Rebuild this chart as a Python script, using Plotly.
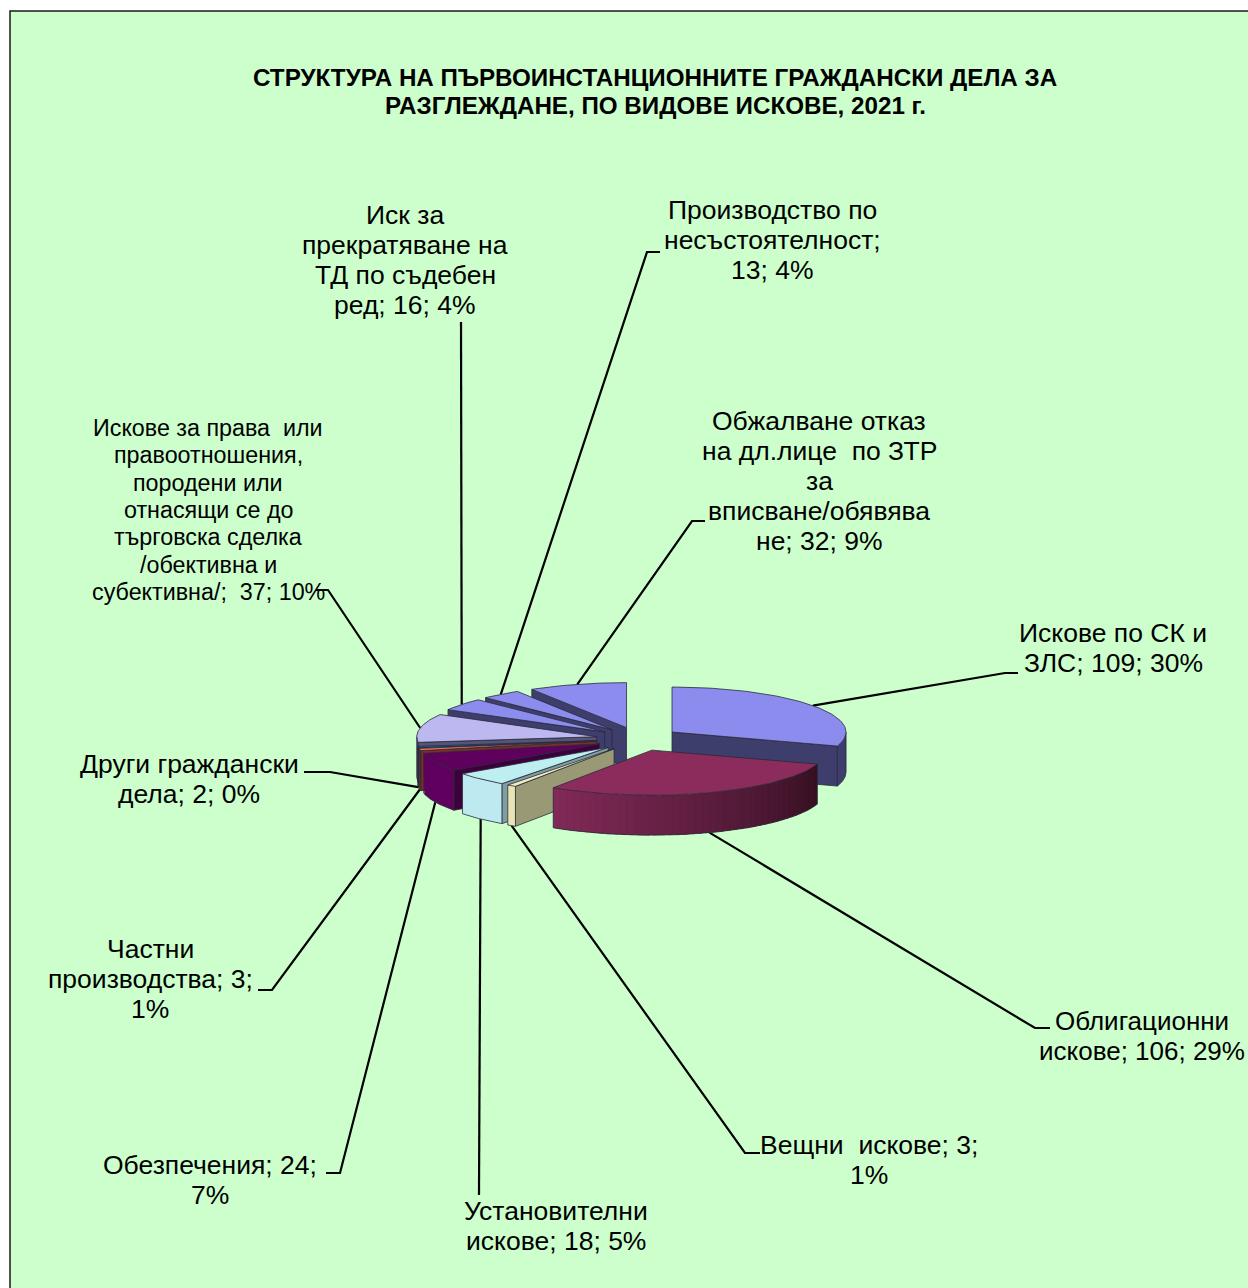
import math
import plotly.graph_objects as go

# --- data ---
title_lines = ["<b>СТРУКТУРА НА ПЪРВОИНСТАНЦИОННИТЕ ГРАЖДАНСКИ ДЕЛА ЗА</b>",
               "<b>РАЗГЛЕЖДАНЕ, ПО ВИДОВЕ ИСКОВЕ, 2021 г.</b>"]
values = [109, 106, 3, 18, 24, 3, 2, 37, 16, 13, 32]
labels = [
    ["Искове по СК и", "ЗЛС; 109; 30%"],
    ["Облигационни", "искове; 106; 29%"],
    ["Вещни  искове; 3;", "1%"],
    ["Установителни", "искове; 18; 5%"],
    ["Обезпечения; 24;", "7%"],
    ["Частни", "производства; 3;", "1%"],
    ["Други граждански", "дела; 2; 0%"],
    ["Искове за права  или", "правоотношения,", "породени или", "отнасящи се до",
     "търговска сделка", "/обективна и", "субективна/;  37; 10%"],
    ["Иск за", "прекратяване на", "ТД по съдебен", "ред; 16; 4%"],
    ["Производство по", "несъстоятелност;", "13; 4%"],
    ["Обжалване отказ", "на дл.лице  по ЗТР", "за", "вписване/обявява", "не; 32; 9%"],
]
top_colors = ["#8C8CEE", "#8B2C5C", "#F2EBC0", "#BDEEF0", "#5F005F", "#F07050",
              "#0A6CB0", "#BDB9F0", "#8C8CEE", "#8C8CEE", "#8C8CEE"]
wall_colors = ["#3E3E6C", "#3E1228", "#999976", "#7E9EA0", "#3C003C", "#7A3028",
               "#0A3C64", "#55557A", "#3E3E6C", "#3E3E6C", "#3E3E6C"]
rim_left = ["#3E3E6C", "#822A58", "#E8E4B6", "#BCEAF0", "#5F005F", "#7A3028",
            "#0A3C64", "#55557A", "#3E3E6C", "#3E3E6C", "#3E3E6C"]
rim_right = ["#3E3E6C", "#351022", "#E8E4B6", "#BCEAF0", "#5F005F", "#7A3028",
             "#0A3C64", "#55557A", "#3E3E6C", "#3E3E6C", "#3E3E6C"]
paint_order = [0, 10, 9, 8, 7, 6, 5, 4, 3, 2, 1]

# --- layout constants (pixel-mapped axes) ---
W, H = 1248, 1288
CX, CY, RX_L, RX_R, RY, EX, EY, T = 638, 739, 180, 174, 45, 42, 11.8, 40
label_pos = [(1113, 648), (1142, 1036), (869, 1160), (556, 1226), (210, 1180), (150, 979),
             (189, 779), (208, 510), (405, 260), (772, 240), (819, 481)]
knees = [[(1005, 673), (1018, 673)], [(1035, 1028), (1050, 1028)], [(745, 1153), (760, 1153)],
         [(479, 1195)], [(340, 1173), (326, 1173)], [(272, 990), (258, 990)],
         [(330, 772), (304, 772)], [(328, 590), (316, 590)], [(461, 322)],
         [(647, 252), (660, 252)], [(692, 521), (705, 521)]]
label_sizes = [26.5, 26, 26.5, 26.5, 26.5, 26.5, 26.5, 23.3, 26.5, 26.5, 26.5]
line_steps = [30, 30, 30, 30, 30, 30, 30, 27.4, 30, 30, 30]
LINE = "#2A2A3A"

total = sum(values)
starts, a = [], 0.0
for v in values:
    starts.append(a)
    a += v / total * 360


def rgb(h):
    return [int(h[i:i + 2], 16) for i in (1, 3, 5)]


def mix(c1, c2, t):
    p, q = rgb(c1), rgb(c2)
    return "rgb(%d,%d,%d)" % tuple(round(p[i] + (q[i] - p[i]) * t) for i in range(3))


def apex(i):
    m = math.radians(starts[i] + values[i] / total * 180)
    return CX + EX * math.sin(m), CY - EY * math.cos(m)


def rim(i, deg, dy=0):
    ax, ay = apex(i)
    r = math.radians(deg)
    s = math.sin(r)
    return ax + (RX_R if s > 0 else RX_L) * s, ay - RY * math.cos(r) + dy


fig = go.Figure()


def poly(pts, fill, lw=0.8):
    xs = [p[0] for p in pts] + [pts[0][0]]
    ys = [p[1] for p in pts] + [pts[0][1]]
    fig.add_trace(go.Scatter(x=xs, y=ys, mode="lines", fill="toself", fillcolor=fill,
                             line=dict(color=LINE if lw else fill, width=lw or 0.2),
                             hoverinfo="skip", showlegend=False))


def stroke(pts, color=LINE, width=0.8):
    fig.add_trace(go.Scatter(x=[p[0] for p in pts], y=[p[1] for p in pts], mode="lines",
                             line=dict(color=color, width=width), hoverinfo="skip", showlegend=False))


# leader lines
for i in range(len(values)):
    mid = starts[i] + values[i] / total * 180
    stroke([rim(i, mid, T if 90 < mid < 270 else 0)] + knees[i], "#000000", 2.2)

# slices, back to front
for i in paint_order:
    s, e = starts[i], starts[i] + values[i] / total * 360
    ax, ay = apex(i)
    if 180 < s < 360:
        p = rim(i, s)
        poly([(ax, ay), p, (p[0], p[1] + T), (ax, ay + T)], wall_colors[i])
    if 0 < e < 180:
        p = rim(i, e)
        poly([(ax, ay), p, (p[0], p[1] + T), (ax, ay + T)], wall_colors[i])
    lo, hi = max(s, 90), min(e, 270)
    if hi > lo:
        shaded = rim_left[i] != rim_right[i]
        n = int((hi - lo) / 2.5) if shaded else 1
        for k in range(n):
            d0 = lo + (hi - lo) * k / n
            d1 = min(hi, d0 + (hi - lo) / n + 1.5)   # each strip overlaps the next
            m = max(2, int((d1 - d0) / 0.5))
            span = [d0 + (d1 - d0) * j / m for j in range(m + 1)]
            poly([rim(i, d) for d in span] + [rim(i, d, T) for d in reversed(span)],
                 mix(rim_right[i], rim_left[i], (k + 0.5) / n), 0)
        stroke([rim(i, lo + (hi - lo) * j / 60, T) for j in range(61)])
        for d in (lo, hi):
            stroke([rim(i, d), rim(i, d, T)])
    n = max(2, int((e - s) / 1.5))
    poly([(ax, ay)] + [rim(i, s + (e - s) * j / n) for j in range(n + 1)], top_colors[i])


def text_block(lines, cx, cy, size, step):
    out = []
    for j, line in enumerate(lines):
        y = cy + (j - (len(lines) - 1) / 2) * step
        out.append(dict(x=cx, y=y, xref="x", yref="y", text=line, showarrow=False,
                        font=dict(family="Liberation Sans", size=size, color="#000000")))
    return out


annotations = text_block(title_lines, 655, 91, 24.2, 28)
for i, lab in enumerate(labels):
    annotations += text_block(lab, label_pos[i][0], label_pos[i][1], label_sizes[i], line_steps[i])

fig.update_layout(
    width=W, height=H, margin=dict(l=0, r=0, t=0, b=0),
    paper_bgcolor="#FFFFFF", plot_bgcolor="#FFFFFF", showlegend=False,
    xaxis=dict(range=[0, W], visible=False, fixedrange=True),
    yaxis=dict(range=[H, 0], visible=False, fixedrange=True),
    shapes=[dict(type="rect", xref="x", yref="y", x0=10, y0=11, x1=W + 20, y1=H + 20,
                 fillcolor="#CCFFCC", line=dict(color="#1A1A1A", width=1.5), layer="below")],
    annotations=annotations,
)
fig.write_html("out.html", config={"displayModeBar": False},
               post_script="document.body.style.margin='0';")
